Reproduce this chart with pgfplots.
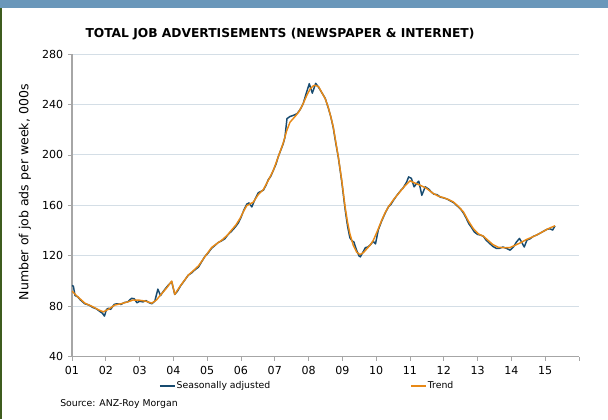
\documentclass[border=0pt]{standalone}
\usepackage{pgfplots}
\pgfplotsset{compat=1.18}
\usepackage{fontspec}
\setmainfont{DejaVu Sans}

\definecolor{sablue}{RGB}{23,75,112}
\definecolor{trendorange}{RGB}{232,137,22}
\definecolor{gridcol}{RGB}{212,222,230}
\definecolor{axiscol}{RGB}{166,166,166}
\definecolor{barblue}{RGB}{106,151,186}
\definecolor{edgegreen}{RGB}{62,92,30}

\begin{document}
\begin{tikzpicture}
% page frame: 608 x 419 px at 0.75pt per px
\path[use as bounding box] (0,0) rectangle (456pt,314.25pt);
\fill[barblue] (0,308.25pt) rectangle (456pt,314.25pt);
\fill[edgegreen] (0,0) rectangle (1.5pt,308.25pt);

\begin{axis}[
  at={(54pt,46.7pt)}, anchor=south west,
  scale only axis, width=380.25pt, height=227pt,
  xmin=2001, xmax=2016, ymin=40, ymax=280,
  xtick={2001,...,2016},
  xticklabels={01,02,03,04,05,06,07,08,09,10,11,12,13,14,15,},
  ytick={40,80,...,280},
  axis x line*=bottom, axis y line*=left,
  axis line style={draw=axiscol, line width=1pt, -},
  tick align=outside, major tick length=3pt,
  tick style={draw=axiscol, line width=0.6pt},
  ymajorgrids, grid style={draw=gridcol, line width=0.8pt},
  /pgf/number format/assume math mode=true,
  ticklabel style={font=\fontsize{8.3}{10}\selectfont},
  xticklabel style={yshift=-1pt},
  legend columns=2,
  legend style={draw=none, fill=none, at={(0.1637,-0.0967)}, anchor=west,
    font=\fontsize{7}{8}\selectfont, nodes={inner sep=1pt},
    /tikz/every even column/.append style={column sep=104pt}},
  legend image code/.code={\draw[#1] (0pt,0pt) -- (11pt,0pt);},
]
% Seasonally adjusted series
\addplot[sablue, line width=1.1pt, line join=round] table {
2001.00 96.5
2001.04 96.0
2001.09 88.5
2001.17 87.5
2001.25 85.0
2001.38 82.0
2001.50 81.0
2001.62 79.0
2001.72 78.0
2001.82 76.0
2001.90 74.5
2001.96 72.2
2002.02 77.5
2002.08 78.5
2002.14 77.5
2002.25 81.5
2002.33 82.0
2002.45 81.5
2002.55 83.0
2002.65 83.5
2002.76 86.3
2002.84 86.0
2002.92 82.8
2003.00 84.0
2003.10 83.5
2003.19 84.5
2003.27 83.0
2003.36 82.0
2003.45 84.0
2003.54 93.6
2003.62 88.5
2003.72 92.5
2003.84 96.5
2003.95 99.5
2004.04 89.4
2004.12 92.0
2004.22 96.5
2004.33 100.5
2004.44 104.7
2004.54 106.5
2004.64 109.0
2004.74 111.0
2004.83 115.0
2004.93 119.5
2005.02 122.0
2005.13 126.0
2005.22 128.0
2005.32 130.5
2005.43 132.0
2005.52 133.5
2005.62 137.0
2005.72 139.5
2005.82 142.5
2005.92 146.0
2006.00 150.5
2006.08 156.0
2006.17 161.0
2006.24 162.0
2006.32 158.8
2006.40 164.0
2006.51 170.0
2006.58 171.0
2006.66 172.0
2006.74 176.0
2006.81 180.5
2006.88 183.0
2006.96 188.0
2007.04 193.0
2007.10 198.5
2007.18 204.0
2007.25 209.0
2007.30 214.0
2007.36 228.8
2007.45 230.5
2007.55 231.4
2007.66 232.8
2007.75 236.0
2007.84 240.7
2007.92 248.0
2008.02 256.5
2008.11 249.0
2008.21 256.8
2008.30 253.5
2008.40 249.0
2008.49 245.0
2008.58 237.5
2008.66 230.0
2008.73 221.5
2008.80 210.0
2008.88 198.0
2008.98 179.0
2009.08 157.0
2009.15 144.0
2009.22 134.5
2009.28 132.0
2009.34 131.0
2009.42 124.5
2009.49 120.0
2009.53 119.2
2009.60 122.5
2009.68 126.5
2009.75 127.0
2009.82 128.5
2009.91 131.5
2009.98 129.5
2010.06 140.4
2010.16 147.5
2010.26 153.5
2010.36 158.8
2010.44 161.0
2010.51 164.0
2010.60 167.5
2010.70 171.0
2010.80 174.0
2010.90 178.5
2010.96 182.6
2011.04 181.5
2011.12 174.7
2011.20 177.5
2011.26 179.2
2011.35 168.0
2011.45 174.7
2011.55 173.0
2011.62 171.0
2011.70 169.0
2011.80 168.5
2011.90 166.5
2011.99 166.0
2012.10 165.0
2012.20 163.5
2012.30 162.0
2012.42 159.0
2012.50 157.0
2012.58 154.0
2012.66 150.0
2012.74 145.5
2012.82 142.5
2012.90 139.0
2013.00 137.0
2013.08 136.5
2013.17 135.5
2013.25 132.5
2013.35 130.0
2013.45 127.5
2013.55 126.0
2013.65 126.0
2013.75 127.0
2013.85 126.0
2013.96 124.5
2014.06 127.0
2014.15 131.0
2014.24 133.8
2014.31 130.5
2014.38 127.0
2014.46 132.5
2014.55 133.5
2014.65 135.5
2014.75 136.5
2014.85 138.0
2014.95 139.5
2015.05 141.0
2015.14 141.5
2015.22 140.4
2015.29 143.8
};
\addlegendentry{Seasonally adjusted}
% Trend series
\addplot[trendorange, line width=1.1pt, line join=round] table {
2001.00 92.0
2001.15 88.0
2001.38 82.5
2001.62 79.6
2001.80 77.0
2001.93 75.6
2002.07 77.5
2002.27 81.0
2002.45 82.0
2002.65 83.5
2002.81 85.0
2003.00 84.8
2003.19 84.0
2003.36 82.5
2003.50 85.0
2003.62 89.0
2003.80 94.5
2003.95 100.0
2004.04 89.5
2004.20 96.0
2004.44 104.7
2004.60 108.5
2004.74 112.0
2004.93 119.2
2005.13 126.6
2005.30 130.0
2005.43 132.4
2005.60 136.5
2005.72 140.4
2005.85 144.5
2005.97 149.6
2006.08 155.5
2006.17 159.8
2006.36 162.5
2006.51 168.5
2006.66 172.5
2006.81 180.0
2006.96 188.0
2007.10 198.4
2007.25 209.5
2007.35 219.0
2007.45 226.0
2007.60 230.5
2007.72 234.5
2007.84 240.7
2007.95 247.5
2008.05 252.5
2008.15 255.0
2008.21 255.2
2008.30 254.0
2008.40 249.0
2008.49 244.7
2008.58 238.0
2008.66 230.0
2008.73 222.2
2008.80 211.0
2008.88 198.4
2008.98 180.0
2009.08 158.8
2009.15 147.0
2009.22 137.7
2009.32 128.5
2009.42 123.0
2009.52 121.0
2009.62 122.5
2009.72 125.5
2009.82 128.5
2009.91 132.0
2010.04 140.0
2010.16 148.0
2010.26 154.0
2010.36 158.8
2010.51 164.5
2010.70 170.7
2010.85 175.5
2011.00 179.5
2011.12 178.0
2011.30 176.0
2011.49 173.5
2011.69 169.4
2011.85 167.2
2011.99 166.2
2012.15 164.5
2012.28 162.8
2012.42 159.5
2012.58 154.9
2012.72 148.0
2012.87 141.7
2013.02 137.5
2013.17 135.6
2013.30 132.5
2013.45 129.0
2013.61 126.8
2013.80 126.4
2013.96 126.6
2014.12 128.5
2014.28 130.5
2014.45 133.0
2014.65 135.3
2014.85 138.0
2015.04 140.8
2015.17 142.5
2015.29 143.8
};
\addlegendentry{Trend}
\end{axis}

% title, axis title and source line
\node[font=\bfseries\fontsize{9.2}{11}\selectfont] at (210pt,288.75pt)
  {TOTAL JOB ADVERTISEMENTS (NEWSPAPER \& INTERNET)};
\node[rotate=90, font=\fontsize{9.4}{11}\selectfont] at (18.75pt,170pt)
  {Number of job ads per week, 000s};
\node[anchor=west, inner sep=0pt, font=\fontsize{7}{8}\selectfont] at (45pt,11.25pt)
  {Source: ANZ-Roy Morgan};
\end{tikzpicture}
\end{document}
